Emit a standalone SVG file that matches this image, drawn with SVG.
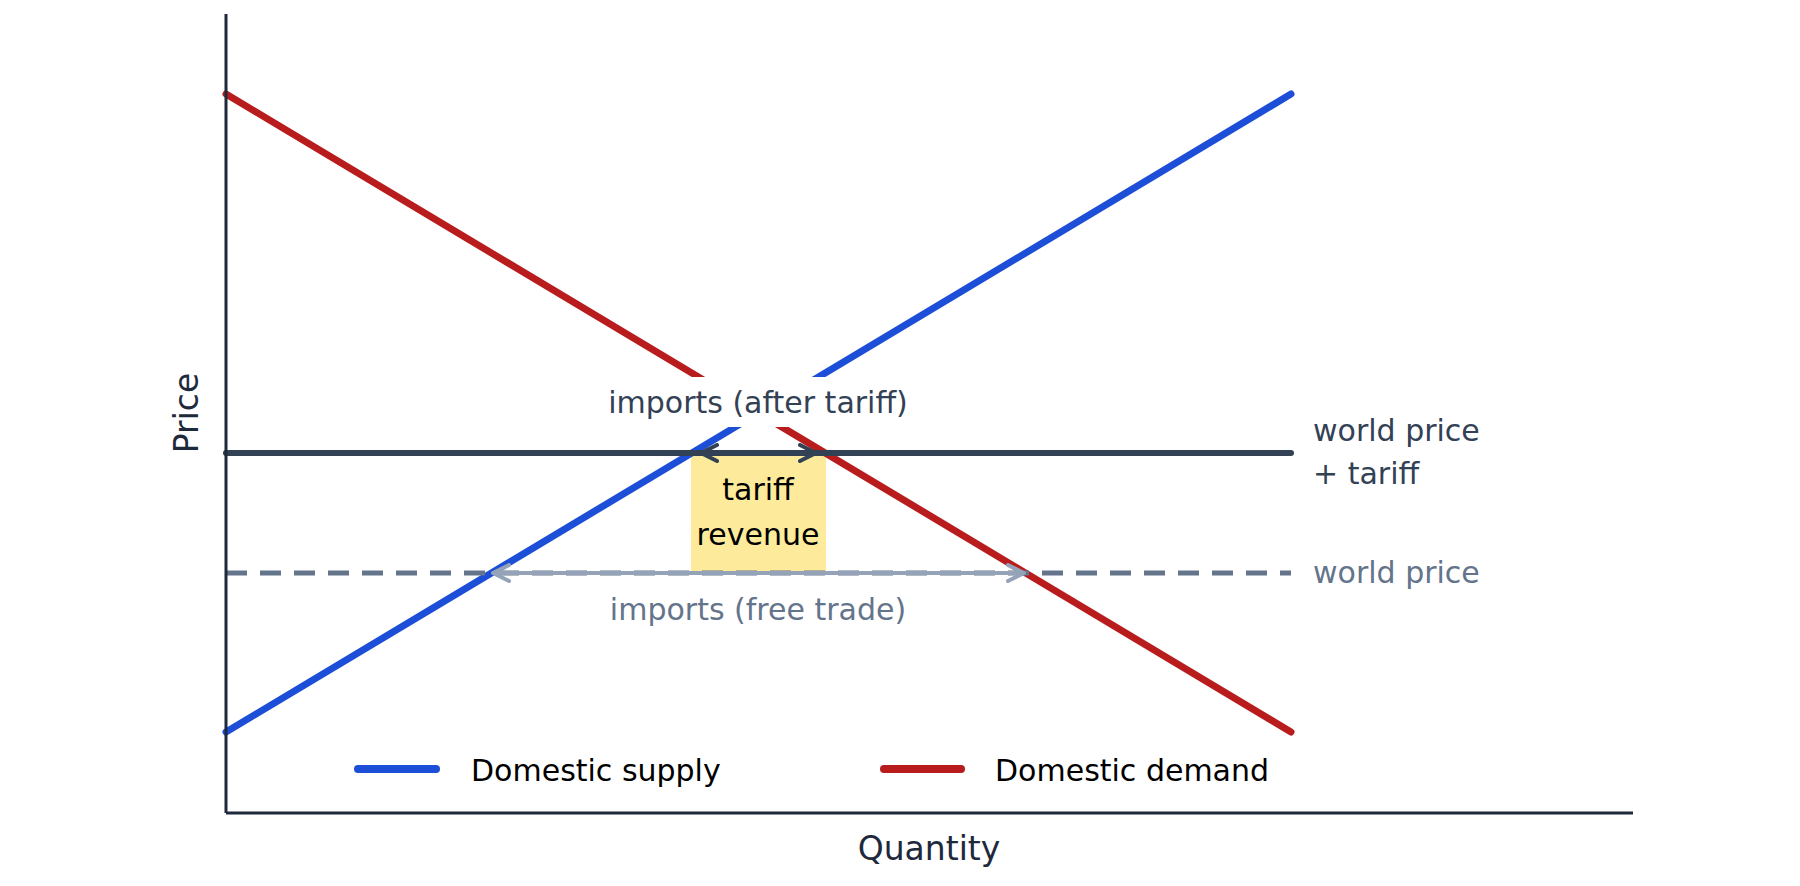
<svg xmlns="http://www.w3.org/2000/svg" width="1800" height="886" viewBox="0 0 1800 886">
<style>
text{font-family:"DejaVu Sans","Noto Sans",sans-serif;font-size:30px}
.dark{fill:#334155}.gray{fill:#64748b}
</style>
<defs>
<marker id="ad" viewBox="0 0 10 10" refX="9" refY="5" markerWidth="4" markerHeight="4" orient="auto-start-reverse" markerUnits="strokeWidth"><path d="M1,1 L9,5 L1,9" fill="none" stroke="#334155" stroke-width="2" stroke-linecap="round" stroke-linejoin="round"/></marker>
<marker id="ag" viewBox="0 0 10 10" refX="9" refY="5" markerWidth="5" markerHeight="5" orient="auto-start-reverse" markerUnits="strokeWidth"><path d="M1,1 L9,5 L1,9" fill="none" stroke="#94a3b8" stroke-width="2" stroke-linecap="round" stroke-linejoin="round"/></marker>
</defs>
<rect width="1800" height="886" fill="#fff"/>
<g id="revenue"><rect x="691" y="453" width="135" height="120" fill="#fde68a" opacity="0.85"/></g>
<g id="curves" fill="none" stroke-linecap="round">
<line x1="226" y1="94" x2="1291" y2="732" stroke="#b91c1c" stroke-width="7"/>
<line x1="226" y1="732" x2="1291" y2="94" stroke="#1d4ed8" stroke-width="7"/>
<line x1="226" y1="453" x2="1291" y2="453" stroke="#334155" stroke-width="6"/>
<line x1="226" y1="573" x2="1291" y2="573" stroke="#64748b" stroke-width="5" stroke-dasharray="21,13" stroke-linecap="butt"/>
</g>
<g id="connectors" fill="none">
<line x1="701" y1="453" x2="816" y2="453" stroke="#334155" stroke-width="5" marker-start="url(#ad)" marker-end="url(#ad)"/>
<line x1="493" y1="573" x2="1024" y2="573" stroke="#94a3b8" stroke-width="4" marker-start="url(#ag)" marker-end="url(#ag)"/>
</g>
<g id="axes" stroke="#1e293b" stroke-width="3">
<line x1="226" y1="14" x2="226" y2="813"/>
<line x1="226" y1="813" x2="1633" y2="813"/>
</g>
<g id="labels">
<rect x="690" y="377" width="140" height="50" fill="#fff"/>
<text x="758" y="413" text-anchor="middle" class="dark">imports (after tariff)</text>
<text x="758" y="500" text-anchor="middle" fill="#000">tariff</text>
<text x="758" y="545" text-anchor="middle" fill="#000">revenue</text>
<text x="758" y="620" text-anchor="middle" class="gray">imports (free trade)</text>
<text x="1313" y="441" class="dark">world price</text>
<text x="1313" y="484" class="dark">+ tariff</text>
<text x="1313" y="583" class="gray">world price</text>
<text x="929" y="860" text-anchor="middle" fill="#1e293b" style="font-size:33px">Quantity</text>
<text transform="translate(198,413) rotate(-90)" text-anchor="middle" fill="#1e293b" style="font-size:33px">Price</text>
</g>
<g id="legend">
<line x1="358" y1="769" x2="436" y2="769" stroke="#1d4ed8" stroke-width="8" stroke-linecap="round"/>
<text x="471" y="781" fill="#000">Domestic supply</text>
<line x1="884" y1="769" x2="961" y2="769" stroke="#b91c1c" stroke-width="8" stroke-linecap="round"/>
<text x="995" y="781" fill="#000">Domestic demand</text>
</g>
</svg>
